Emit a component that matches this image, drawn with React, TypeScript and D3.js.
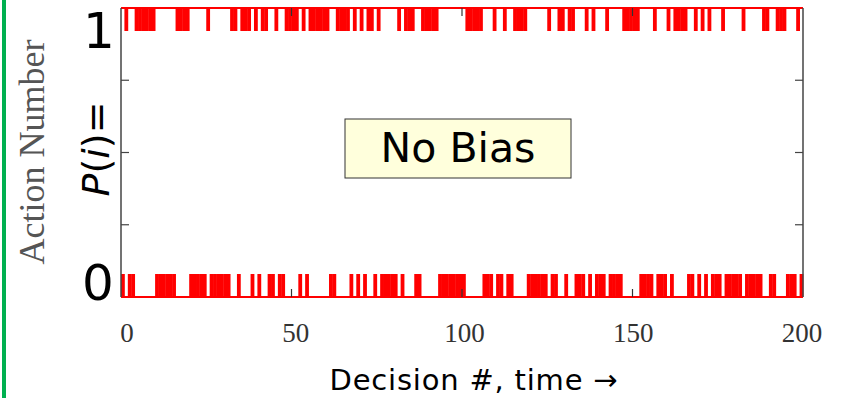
import * as d3 from "d3";

// action chosen at each decision (1 = top, 0 = bottom), read left to right
const actions: number[] = [
  0, 1, 0, 0, 1, 1, 1, 1, 1, 1, 0, 0, 0, 0, 0, 0, 1, 1, 1, 1,
  0, 0, 0, 0, 0, 1, 0, 0, 0, 0, 0, 0, 1, 1, 0, 1, 1, 1, 0, 1,
  0, 1, 1, 0, 0, 1, 0, 0, 1, 1, 1, 1, 0, 1, 0, 1, 1, 1, 1, 1,
  1, 0, 0, 1, 1, 1, 1, 0, 1, 0, 1, 0, 1, 1, 0, 1, 0, 0, 0, 0,
  0, 1, 0, 1, 1, 1, 0, 0, 1, 1, 1, 1, 1, 0, 0, 0, 0, 0, 0, 0,
  0, 1, 1, 1, 1, 1, 0, 0, 0, 1, 0, 0, 1, 0, 0, 1, 1, 1, 1, 0,
  0, 0, 0, 0, 0, 1, 0, 0, 1, 1, 0, 1, 1, 0, 0, 0, 1, 0, 1, 0,
  0, 0, 1, 0, 0, 0, 0, 1, 1, 1, 1, 1, 0, 0, 0, 0, 1, 0, 0, 0,
  1, 0, 1, 1, 1, 1, 0, 0, 1, 0, 1, 0, 1, 0, 0, 0, 1, 0, 0, 0,
  0, 0, 1, 0, 0, 0, 0, 0, 1, 1, 0, 0, 1, 1, 1, 0, 0, 0, 1, 0,
];

const xTicks = [0, 50, 100, 150, 200];
const yTicks = [0.25, 0.5, 0.75];
const levels = [0, 1];

export default function App() {
  const width = 854;
  const height = 398;
  const left = 121;
  const right = 803;
  const top = 8;
  const bottom = 297;
  const band = 23;

  const x = d3.scaleLinear().domain([0, actions.length]).range([left, right]);
  const xLabel = d3.scaleLinear().domain([0, 200]).range([127, 802]);
  const y = d3.scaleLinear().domain([0, 1]).range([bottom, top]);
  const step = x(1) - x(0);

  return (
    <svg
      width={width}
      height={height}
      viewBox={`0 0 ${width} ${height}`}
      style={{ position: "absolute", left: 0, top: 0, background: "#fff" }}
    >
      <rect x={2} y={0} width={4} height={height} fill="#00b050" />

      {/* decision marks */}
      {actions.map((a, i) => (
        <rect
          key={i}
          x={x(i)}
          y={a === 1 ? y(1) : y(0) - band}
          width={step + 0.4}
          height={band}
          fill="#ff0000"
        />
      ))}
      {levels.map((l) => (
        <line
          key={l}
          x1={left}
          x2={right}
          y1={y(l)}
          y2={y(l)}
          stroke="#ff0000"
          strokeWidth={2}
        />
      ))}

      {/* frame */}
      <line x1={left} x2={left} y1={top} y2={bottom} stroke="#444" strokeWidth={1.5} />
      <line x1={right} x2={right} y1={top} y2={bottom} stroke="#444" strokeWidth={1.5} />
      {yTicks.map((t) => (
        <g key={t}>
          <line x1={left} x2={left + 8} y1={y(t)} y2={y(t)} stroke="#444" strokeWidth={1.2} />
          <line x1={right - 8} x2={right} y1={y(t)} y2={y(t)} stroke="#444" strokeWidth={1.2} />
        </g>
      ))}
      {xTicks.slice(1, -1).map((t) => (
        <g key={t}>
          <line x1={x(t)} x2={x(t)} y1={bottom} y2={bottom - 8} stroke="#333" strokeWidth={1.2} />
          <line x1={x(t)} x2={x(t)} y1={top} y2={top + 8} stroke="#333" strokeWidth={1.2} />
        </g>
      ))}

      {xTicks.map((t) => (
        <text
          key={t}
          x={xLabel(t)}
          y={342}
          textAnchor="middle"
          fontFamily="'Liberation Serif', serif"
          fontSize={27}
          fill="#333"
        >
          {t}
        </text>
      ))}

      <text x={99} y={y(1) + 40} textAnchor="middle" fontFamily="'DejaVu Sans', sans-serif" fontSize={50} fill="#000">
        1
      </text>
      <text x={98} y={y(0) + 3} textAnchor="middle" fontFamily="'DejaVu Sans', sans-serif" fontSize={50} fill="#000">
        0
      </text>

      <text
        transform="translate(44,152) rotate(-90)"
        textAnchor="middle"
        fontFamily="'Liberation Serif', serif"
        fontSize={36}
        fill="#555"
      >
        Action Number
      </text>
      <text
        transform="translate(109,149) rotate(-90)"
        textAnchor="middle"
        fontFamily="'DejaVu Sans', sans-serif"
        fontSize={38}
        fill="#000"
      >
        <tspan fontStyle="italic">P</tspan>(<tspan fontStyle="italic">i</tspan>)=
      </text>

      <rect x={345} y={119} width={226} height={59} fill="#ffffdc" stroke="#333" strokeWidth={1} />
      <text x={458} y={162} textAnchor="middle" fontFamily="'DejaVu Sans', sans-serif" fontSize={41} fill="#000">
        No Bias
      </text>

      <text x={474} y={390} textAnchor="middle" fontFamily="'DejaVu Sans', sans-serif" fontSize={29} letterSpacing={0.8} fill="#000">
        Decision #, time →
      </text>
    </svg>
  );
}
